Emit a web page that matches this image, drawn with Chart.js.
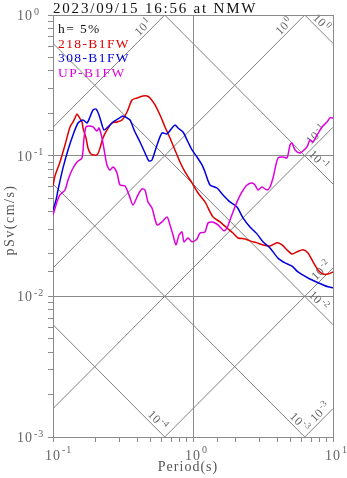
<!DOCTYPE html>
<html>
<head>
<meta charset="utf-8">
<script src="https://cdn.jsdelivr.net/npm/chart.js@4.4.0/dist/chart.umd.min.js"></script>
<style>
  html, body { margin: 0; padding: 0; background: #fff; }
  canvas { display: block; }
</style>
</head>
<body>
<canvas id="chart" width="347" height="478"></canvas>
<script>
// Response spectra, h = 5%
const redPeriods = [0.1, 0.1033, 0.1122, 0.1218, 0.1323, 0.139, 0.1436, 0.1484, 0.1534, 0.1611, 0.1638, 0.1721, 0.1778, 0.1868, 0.2062, 0.2166, 0.2276, 0.2431, 0.2639, 0.2865, 0.3112, 0.3378, 0.3667, 0.3981, 0.4395, 0.4692, 0.4932, 0.5353, 0.5813, 0.631, 0.685, 0.7435, 0.8073, 0.8768, 0.9838, 1.086, 1.218, 1.389, 1.56, 1.75, 1.931, 2.096, 2.352, 2.553, 2.865, 3.162, 3.548, 3.981, 4.322, 4.692, 5.094, 5.534, 6.105, 6.628, 7.197, 7.815, 8.484, 9.211, 10];
const redPsv = [0.0609, 0.0717, 0.0902, 0.1191, 0.16, 0.1736, 0.1853, 0.1979, 0.1884, 0.1736, 0.1574, 0.1336, 0.1134, 0.1028, 0.1012, 0.1134, 0.1336, 0.1523, 0.1708, 0.1736, 0.1794, 0.2045, 0.2488, 0.257, 0.2656, 0.2656, 0.257, 0.2293, 0.1947, 0.16, 0.1336, 0.1098, 0.0902, 0.0766, 0.064, 0.0543, 0.0469, 0.0367, 0.0338, 0.0306, 0.0282, 0.026, 0.0256, 0.0248, 0.024, 0.0232, 0.0228, 0.024, 0.0232, 0.0214, 0.02, 0.0207, 0.0214, 0.0203, 0.0176, 0.0154, 0.0144, 0.0144, 0.0149];

const bluePeriods = [0.1, 0.1051, 0.1086, 0.1179, 0.128, 0.139, 0.1509, 0.1638, 0.175, 0.1837, 0.1931, 0.2028, 0.2131, 0.2239, 0.2313, 0.2471, 0.2683, 0.2913, 0.3162, 0.3378, 0.3548, 0.3852, 0.4182, 0.4541, 0.485, 0.5094, 0.5534, 0.6005, 0.652, 0.7079, 0.7438, 0.7815, 0.8484, 0.9211, 0.9838, 1.068, 1.16, 1.218, 1.323, 1.484, 1.638, 1.837, 2.062, 2.276, 2.553, 2.865, 3.162, 3.548, 4.046, 4.541, 5.094, 5.623, 6.628, 7.815, 9.211, 10];
const bluePsv = [0.0411, 0.0484, 0.057, 0.0818, 0.1098, 0.1404, 0.1708, 0.1794, 0.1708, 0.1884, 0.2113, 0.2147, 0.1947, 0.1653, 0.1523, 0.16, 0.1736, 0.1823, 0.1916, 0.1853, 0.1794, 0.1474, 0.1251, 0.1045, 0.0917, 0.0932, 0.1191, 0.145, 0.1427, 0.1574, 0.1653, 0.1574, 0.1474, 0.1251, 0.1098, 0.0979, 0.0859, 0.0766, 0.0619, 0.0589, 0.0526, 0.0469, 0.0432, 0.0361, 0.0311, 0.0278, 0.0244, 0.0221, 0.0187, 0.0173, 0.0164, 0.0149, 0.0135, 0.0125, 0.0117, 0.0115];

const upPeriods = [0.1, 0.1068, 0.1122, 0.1218, 0.128, 0.1367, 0.1484, 0.1611, 0.1665, 0.1721, 0.1807, 0.1931, 0.2062, 0.2131, 0.2239, 0.2352, 0.2431, 0.2553, 0.2683, 0.2865, 0.301, 0.3269, 0.3491, 0.3728, 0.4046, 0.4322, 0.4541, 0.4771, 0.5094, 0.5534, 0.6005, 0.652, 0.685, 0.7197, 0.7561, 0.7943, 0.8344, 0.8626, 0.9211, 0.9838, 1.068, 1.122, 1.218, 1.28, 1.367, 1.436, 1.509, 1.585, 1.665, 1.75, 1.837, 1.931, 2.062, 2.239, 2.431, 2.639, 2.773, 2.913, 3.112, 3.378, 3.548, 3.728, 4.046, 4.395, 4.692, 4.932, 5.094, 5.353, 5.813, 6.105, 6.52, 6.85, 7.197, 7.687, 7.943, 8.344, 9.061, 9.519, 10];
const upPsv = [0.0379, 0.0469, 0.0526, 0.057, 0.0672, 0.0791, 0.0902, 0.0963, 0.1336, 0.16, 0.1626, 0.16, 0.1498, 0.1574, 0.1336, 0.1012, 0.0859, 0.0791, 0.0831, 0.0753, 0.0619, 0.0609, 0.0526, 0.0446, 0.0526, 0.058, 0.057, 0.0469, 0.0425, 0.0322, 0.0338, 0.0367, 0.0322, 0.0273, 0.0232, 0.0273, 0.0287, 0.0244, 0.026, 0.0244, 0.0256, 0.0282, 0.0287, 0.0332, 0.0338, 0.0332, 0.0322, 0.0306, 0.0292, 0.0306, 0.0349, 0.0398, 0.0469, 0.0552, 0.0619, 0.064, 0.0619, 0.057, 0.0599, 0.057, 0.0599, 0.0694, 0.0963, 0.0979, 0.0963, 0.1191, 0.1231, 0.1098, 0.1045, 0.108, 0.1153, 0.1293, 0.1251, 0.1404, 0.1474, 0.16, 0.1736, 0.1853, 0.1853];

const seriesNames = ['218-B1FW', '308-B1FW', 'UP-B1FW'];
const periodDecades = [0.1, 1, 10];
const psvDecades = [0.001, 0.01, 0.1, 1];
// tripartite guide lines: acceleration and displacement levels
const accelLevels = [10, 1, 0.1, 0.01, 0.001];
const dispLevels = [1, 0.1, 0.01, 0.001, 0.0001];

const TWO_PI = 2 * Math.PI;
const SERIF = "'Liberation Serif', 'Times New Roman', serif";
const GRAY = '#8a8a8a';
const COLORS = ['#dd0000', '#0000dd', '#dd00dd'];

// where each guide label sits (period at the foot of the label)
const accelLabelAt = [0.477, 4.85, 8.2, 8.91, 8.77];
const dispLabelAt = [7.69, 7.31, 7.31, 5.35, 0.518];

const toPoints = (ts, vs) => ts.map((t, i) => ({ x: t, y: vs[i] }));

function isDecade(v) {
    if (!v) return false;
    const l = Math.log10(v);
    return Math.abs(l - Math.round(l)) < 1e-6;
}

function drawPower(ctx, x, y, exp, base, sup, raise, align) {
    ctx.textAlign = 'left';
    ctx.textBaseline = 'alphabetic';
    ctx.font = base + 'px ' + SERIF;
    const w1 = ctx.measureText('10').width;
    ctx.font = sup + 'px ' + SERIF;
    const e = String(exp);
    const w2 = ctx.measureText(e).width;
    let x0 = x;
    if (align === 'center') x0 = x - w1 / 2;
    if (align === 'middle') x0 = x - (w1 + w2 + 1) / 2;
    ctx.font = base + 'px ' + SERIF;
    ctx.fillText('10', x0, y);
    ctx.font = sup + 'px ' + SERIF;
    ctx.fillText(e, x0 + w1 + 1, y - raise);
}

const tripartite = {
    id: 'tripartite',
    beforeDatasetsDraw(chart) {
        const { ctx, chartArea: a, scales: { x, y } } = chart;
        ctx.save();
        ctx.beginPath();
        ctx.rect(a.left, a.top, a.right - a.left, a.bottom - a.top);
        ctx.clip();
        ctx.strokeStyle = '#808080';
        ctx.lineWidth = 1;
        const t0 = 0.1, t1 = 10;
        accelLevels.forEach(A => {
            ctx.beginPath();
            ctx.moveTo(x.getPixelForValue(t0), y.getPixelForValue(A * t0 / TWO_PI));
            ctx.lineTo(x.getPixelForValue(t1), y.getPixelForValue(A * t1 / TWO_PI));
            ctx.stroke();
        });
        dispLevels.forEach(D => {
            ctx.beginPath();
            ctx.moveTo(x.getPixelForValue(t0), y.getPixelForValue(TWO_PI * D / t0));
            ctx.lineTo(x.getPixelForValue(t1), y.getPixelForValue(TWO_PI * D / t1));
            ctx.stroke();
        });
        ctx.restore();

        // labels along the guide lines
        ctx.save();
        ctx.fillStyle = '#666';
        ctx.letterSpacing = '0.5px';
        const label = (vAt, t, level) => {
            const px = x.getPixelForValue(t), py = y.getPixelForValue(vAt(t));
            const qx = x.getPixelForValue(t * 1.3), qy = y.getPixelForValue(vAt(t * 1.3));
            const ang = Math.atan2(qy - py, qx - px);
            ctx.save();
            ctx.translate(px, py);
            ctx.rotate(ang);
            drawPower(ctx, 0, -3, Math.round(Math.log10(level)), 12, 9, 4.5, 'middle');
            ctx.restore();
        };
        accelLevels.forEach((A, i) => label(t => A * t / TWO_PI, accelLabelAt[i], A));
        dispLevels.forEach((D, i) => label(t => TWO_PI * D / t, dispLabelAt[i], D));
        ctx.restore();
    },
    afterDraw(chart) {
        const { ctx, chartArea: a, scales: { x, y } } = chart;
        ctx.save();
        // top and right frame
        ctx.strokeStyle = GRAY;
        ctx.lineWidth = 1;
        ctx.beginPath();
        ctx.moveTo(Math.round(a.left) + 0.5, Math.round(a.top) + 0.5);
        ctx.lineTo(Math.round(a.right) + 0.5, Math.round(a.top) + 0.5);
        ctx.lineTo(Math.round(a.right) + 0.5, Math.round(a.bottom) + 0.5);
        ctx.stroke();

        // tick labels
        ctx.fillStyle = '#666';
        ctx.letterSpacing = '1px';
        psvDecades.forEach(v => {
            const py = y.getPixelForValue(v);
            drawPower(ctx, 17, py + 5, Math.round(Math.log10(v)), 14, 10, 5.5, 'left');
        });
        periodDecades.forEach(t => {
            const px = x.getPixelForValue(t);
            drawPower(ctx, px, 460, Math.round(Math.log10(t)), 14, 10, 7, 'center');
        });

        // axis titles
        ctx.fillStyle = '#555';
        ctx.font = '14px ' + SERIF;
        ctx.letterSpacing = '1px';
        ctx.textAlign = 'center';
        ctx.fillText('Period(s)', 188, 471);
        ctx.save();
        ctx.translate(14, 220);
        ctx.rotate(-Math.PI / 2);
        ctx.letterSpacing = '1.5px';
        ctx.fillText('pSv(cm/s)', 0, 0);
        ctx.restore();

        // title
        ctx.textAlign = 'left';
        ctx.fillStyle = '#111';
        ctx.font = '15px ' + SERIF;
        ctx.letterSpacing = '1.8px';
        ctx.fillText('2023/09/15 16:56 at NMW', 53, 13);

        // legend
        ctx.font = '13.5px ' + SERIF;
        ctx.letterSpacing = '1.4px';
        ctx.fillStyle = '#111';
        ctx.fillText('h= 5%', 58, 33);
        const rows = [47.5, 62, 76.5];
        seriesNames.forEach((name, i) => {
            ctx.fillStyle = COLORS[i];
            ctx.fillText(name, 58, rows[i]);
        });
        ctx.restore();
    }
};

const gridColor = ctx => (ctx.tick && isDecade(ctx.tick.value)) ? GRAY : 'rgba(0,0,0,0)';

new Chart(document.getElementById('chart'), {
    type: 'line',
    data: {
        datasets: [
            { label: seriesNames[0], data: toPoints(redPeriods, redPsv), borderColor: COLORS[0], order: 3 },
            { label: seriesNames[1], data: toPoints(bluePeriods, bluePsv), borderColor: COLORS[1], order: 2 },
            { label: seriesNames[2], data: toPoints(upPeriods, upPsv), borderColor: COLORS[2], order: 1 },
        ],
    },
    options: {
        responsive: false,
        animation: false,
        layout: { padding: { top: 15, right: 14, bottom: 0, left: 0 } },
        elements: {
            point: { radius: 0 },
            line: { borderWidth: 1.5, tension: 0.25, fill: false },
        },
        plugins: { legend: { display: false }, tooltip: { enabled: false }, title: { display: false } },
        scales: {
            x: {
                type: 'logarithmic',
                min: 0.1,
                max: 10,
                ticks: { display: false, autoSkip: false },
                grid: { color: gridColor, tickColor: GRAY, tickLength: 5, lineWidth: 1 },
                border: { color: GRAY, width: 1 },
                afterFit(s) { s.height = 41; },
            },
            y: {
                type: 'logarithmic',
                min: 0.001,
                max: 1,
                ticks: { display: false, autoSkip: false },
                grid: { color: gridColor, tickColor: GRAY, tickLength: 5, lineWidth: 1 },
                border: { color: GRAY, width: 1 },
                afterFit(s) { s.width = 53; },
            },
        },
    },
    plugins: [tripartite],
});
</script>
</body>
</html>
